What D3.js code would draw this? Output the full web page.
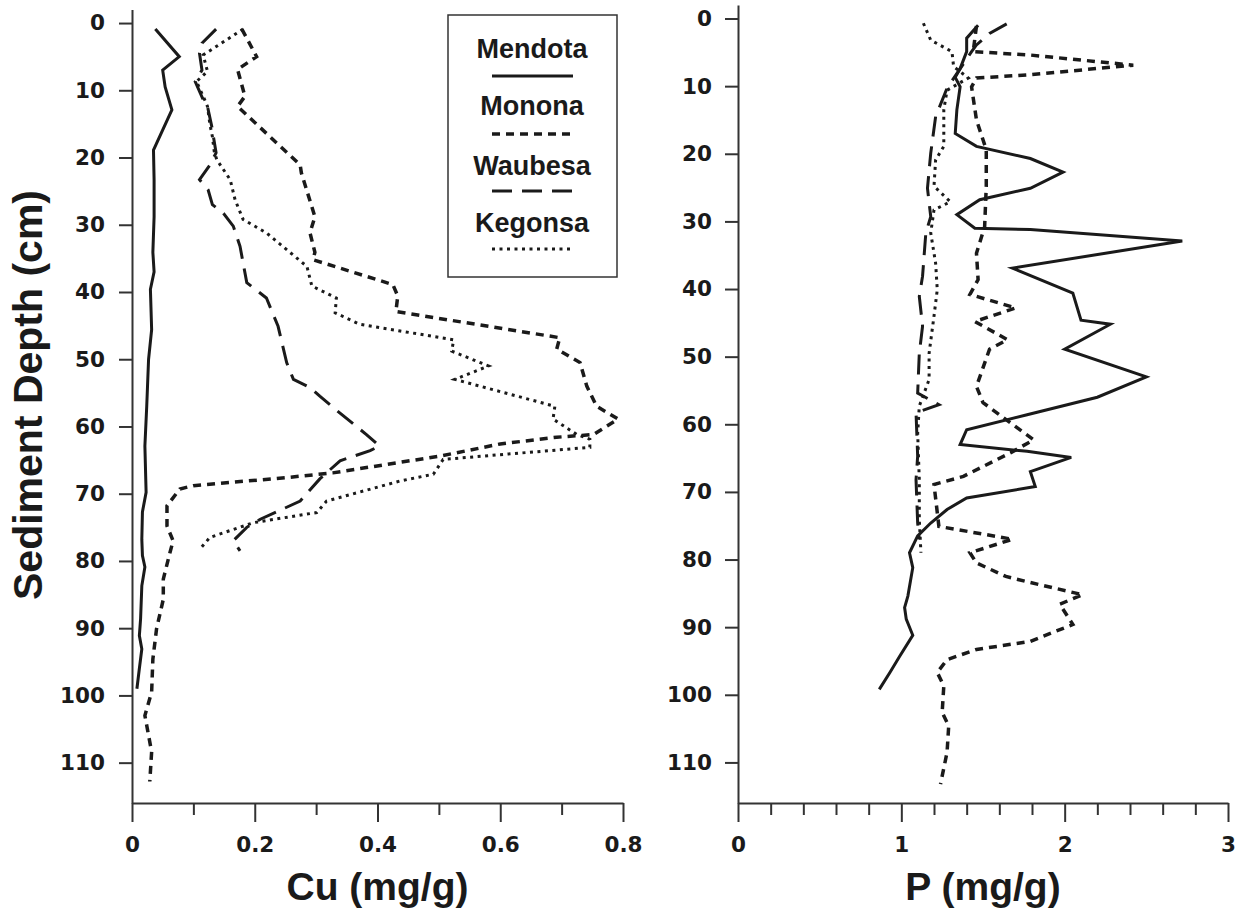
<!DOCTYPE html>
<html>
<head>
<meta charset="utf-8">
<script src="https://cdn.jsdelivr.net/npm/d3@7"></script>
<style>
  body { margin: 0; background: #fff; }
  svg { display: block; }
  text { font-family: "Liberation Sans", Arial, Helvetica, sans-serif; font-weight: bold; fill: #1a1a1a; }
  .axis text { font-family: "DejaVu Sans", Verdana, sans-serif; font-weight: bold; }
</style>
</head>
<body>
<div id="chart"></div>
<script>
// depth (cm), value (mg/g)
var cuMendota = [[0.9,0.038],[5.0,0.077],[7.0,0.050],[9.5,0.054],[12.9,0.065],[18.9,0.035],[23.3,0.036],[28.8,0.036],[34.1,0.034],[37,0.036],[39.6,0.030],[45.6,0.032],[50,0.027],[57,0.024],[62.9,0.021],[69.8,0.023],[72.7,0.017],[76.8,0.016],[79.2,0.017],[80.9,0.021],[83.7,0.016],[88.6,0.014],[91.1,0.012],[93.1,0.016],[96,0.012],[99,0.008]];
var cuMonona = [[0.9,0.179],[5.0,0.203],[6.9,0.172],[10.9,0.184],[12.4,0.172],[21.1,0.274],[22.3,0.276],[28.8,0.298],[31.2,0.290],[34.1,0.298],[35.2,0.295],[38.9,0.425],[40.6,0.433],[42.9,0.430],[46.8,0.697],[48.5,0.692],[50.5,0.730],[54,0.741],[57,0.757],[58.9,0.792],[61.2,0.752],[61.6,0.692],[62.6,0.600],[64.4,0.502],[66.9,0.327],[67.6,0.252],[68.8,0.100],[69.3,0.078],[71.8,0.057],[74.8,0.057],[77,0.067],[78.7,0.062],[82.7,0.051],[85.7,0.051],[90.1,0.040],[94.6,0.034],[99.5,0.032],[103,0.021],[108.4,0.032],[112.8,0.029]];
var cuWaubesa = [[0.9,0.137],[3.0,0.114],[4.5,0.110],[7.0,0.114],[8.7,0.103],[11.2,0.115],[12.4,0.123],[15.4,0.130],[19.3,0.137],[21.1,0.127],[23.3,0.110],[24.8,0.124],[27,0.131],[28.3,0.149],[30.2,0.165],[33.2,0.176],[38.6,0.187],[40.9,0.219],[45.1,0.238],[50.5,0.252],[53,0.263],[54.2,0.290],[55.5,0.306],[58.4,0.344],[61.2,0.382],[62.9,0.403],[63.6,0.388],[65.1,0.339],[67.8,0.306],[71.1,0.274],[73.8,0.209],[75,0.187],[77,0.165],[78.5,0.176]];
var cuKegonsa = [[0.9,0.181],[4.75,0.116],[7.2,0.123],[8.7,0.105],[10.9,0.116],[12.4,0.123],[15.1,0.127],[16.9,0.131],[19.1,0.134],[20.3,0.138],[23.3,0.160],[26.3,0.168],[29.2,0.181],[31.2,0.219],[33.7,0.252],[36.2,0.285],[39.1,0.293],[40.9,0.333],[43.1,0.331],[44.8,0.371],[45.8,0.437],[47.1,0.524],[48.8,0.521],[51.0,0.581],[53.0,0.526],[57.0,0.689],[58.9,0.686],[61.2,0.725],[61.9,0.746],[63.1,0.746],[64.9,0.507],[67.1,0.491],[68.1,0.437],[71.1,0.317],[72.8,0.301],[74.3,0.198],[76.5,0.127],[78.2,0.111]];

var pMendota = [[1.0,1.47],[2.9,1.40],[4.9,1.40],[7.4,1.36],[8.7,1.33],[10.1,1.36],[13.5,1.34],[17,1.33],[18.9,1.46],[20.7,1.79],[22.7,1.99],[25.1,1.79],[26.8,1.48],[29.0,1.34],[31.0,1.45],[31.2,1.79],[32.9,2.72],[36.9,1.68],[40.6,2.05],[44.6,2.10],[45.2,2.28],[48.9,2.00],[53.0,2.50],[56.0,2.20],[58.6,1.77],[60.8,1.40],[63.0,1.36],[64.0,1.77],[64.9,2.04],[67,1.79],[69.2,1.82],[70.9,1.40],[72.6,1.28],[74.6,1.18],[76.5,1.10],[79,1.05],[81.2,1.07],[85.4,1.04],[87.1,1.02],[88.8,1.03],[91.2,1.07],[94.3,0.99],[96.7,0.93],[99.2,0.865]];
var pMonona = [[1.1,1.46],[4.9,1.44],[5.4,1.79],[6.9,2.42],[8.3,1.79],[8.8,1.46],[10.1,1.43],[15.0,1.46],[19.4,1.52],[24.8,1.52],[30.8,1.51],[34.7,1.46],[38.6,1.47],[40.8,1.42],[42.8,1.70],[44.8,1.45],[47.5,1.65],[48.9,1.54],[54.4,1.46],[56.8,1.50],[62.3,1.81],[64.2,1.67],[67.7,1.38],[68.9,1.20],[75.1,1.23],[77.0,1.68],[79,1.42],[80.5,1.46],[82.5,1.64],[83.4,1.79],[85.2,2.11],[86.6,1.97],[89.6,2.05],[92.1,1.79],[93.3,1.46],[94.8,1.28],[96.7,1.22],[98.7,1.26],[102.6,1.25],[104.6,1.29],[108.5,1.28],[113.2,1.24]];
var pWaubesa = [[0.8,1.645],[2.2,1.54],[3.9,1.46],[4.9,1.43],[10.3,1.28],[14.5,1.21],[19.9,1.18],[25.1,1.16],[29.3,1.18],[31.7,1.15],[38.1,1.13],[41.1,1.11],[45.5,1.13],[49.5,1.11],[55.4,1.10],[57.1,1.23],[58.3,1.09],[64.7,1.10],[68.2,1.09],[74.6,1.10],[77,1.11]];
var pKegonsa = [[0.7,1.135],[3.2,1.18],[4.9,1.31],[7.1,1.32],[8.8,1.41],[10.6,1.28],[13.5,1.26],[18.9,1.26],[20.9,1.21],[24.8,1.20],[27.1,1.30],[28.3,1.20],[31.7,1.18],[36.2,1.21],[40.1,1.22],[44.0,1.20],[49.5,1.17],[53.4,1.17],[57.3,1.11],[61.3,1.10],[68.2,1.11],[74.1,1.11],[79.0,1.12]];

var lakes = ["Mendota", "Monona", "Waubesa", "Kegonsa"];
var depthTicks = d3.range(0, 111, 10);
var cuTicks = [0, 0.2, 0.4, 0.6, 0.8];
var pTicks = [0, 1, 2, 3];

var styles = {
    Mendota: { w: 3, dash: null },
    Monona: { w: 3.5, dash: "8,6" },
    Waubesa: { w: 3, dash: "20,10" },
    Kegonsa: { w: 3, dash: "3,4.5" }
};

var svg = d3.select("#chart").append("svg")
    .attr("width", 1245)
    .attr("height", 909);

function panel(cfg) {
    var x = d3.scaleLinear().domain(cfg.xDomain).range(cfg.xRange);
    var y = d3.scaleLinear().domain([-2, 116]).range(cfg.yRange);
    var g = svg.append("g");

    // minor x ticks
    g.append("g")
        .attr("transform", `translate(0, ${cfg.yRange[1]})`)
        .call(d3.axisBottom(x).tickValues(cfg.minor).tickSize(12).tickSizeOuter(0).tickFormat(""))
        .call(s => s.select(".domain").remove());

    var xAxis = g.append("g")
        .attr("class", "axis")
        .attr("transform", `translate(0, ${cfg.yRange[1]})`)
        .call(d3.axisBottom(x).tickValues(cfg.xTicks).tickSize(19).tickSizeOuter(0).tickPadding(15)
            .tickFormat(d => d === 0 ? "0" : d3.format(cfg.fmt)(d)));

    var yAxis = g.append("g")
        .attr("class", "axis")
        .attr("transform", `translate(${cfg.xRange[0]}, 0)`)
        .call(d3.axisLeft(y).tickValues(depthTicks).tickSize(13).tickSizeOuter(0).tickPadding(cfg.yPad));

    g.selectAll(".tick line, .domain").attr("stroke", "#333").attr("stroke-width", 2);
    g.selectAll(".axis text").style("font-size", "21.5px").attr("fill", "#1a1a1a");

    var line = d3.line().x(d => x(d[1])).y(d => y(d[0]));
    cfg.series.forEach(function (s, i) {
        var st = styles[lakes[i]];
        g.append("path")
            .datum(s)
            .attr("d", line)
            .attr("fill", "none")
            .attr("stroke", "#1a1a1a")
            .attr("stroke-width", st.w)
            .attr("stroke-linejoin", "miter")
            .attr("stroke-dasharray", st.dash);
    });

    g.append("text")
        .attr("x", (cfg.xRange[0] + cfg.xRange[1]) / 2)
        .attr("y", 900)
        .attr("text-anchor", "middle")
        .style("font-size", "39px")
        .text(cfg.title);
    return g;
}

panel({
    xDomain: [0, 0.8], xRange: [132, 623], yRange: [9.6, 803],
    xTicks: cuTicks, minor: d3.range(0.1, 0.8, 0.2), fmt: ".1f", yPad: 14,
    series: [cuMendota, cuMonona, cuWaubesa, cuKegonsa],
    title: "Cu (mg/g)"
});

panel({
    xDomain: [0, 3], xRange: [738, 1228], yRange: [5, 803],
    xTicks: pTicks, minor: d3.range(0.2, 3, 0.2).filter(v => Math.abs(v - Math.round(v)) > 0.01), fmt: "d", yPad: 13,
    series: [pMendota, pMonona, pWaubesa, pKegonsa],
    title: "P (mg/g)"
});

// y-axis title
svg.append("text")
    .attr("transform", "translate(42, 395) rotate(-90)")
    .attr("text-anchor", "middle")
    .style("font-size", "41px")
    .text("Sediment Depth (cm)");

// legend
var legend = svg.append("g");
legend.append("rect")
    .attr("x", 448).attr("y", 15)
    .attr("width", 169).attr("height", 262)
    .attr("fill", "#fff")
    .attr("stroke", "#333")
    .attr("stroke-width", 1.5);

var legY = [58, 115, 175, 232];
var legLineY = [76, 134, 191, 249];
lakes.forEach(function (name, i) {
    var st = styles[name];
    legend.append("text")
        .attr("x", 532).attr("y", legY[i])
        .attr("text-anchor", "middle")
        .style("font-size", "27px")
        .text(name);
    legend.append("line")
        .attr("x1", 492).attr("x2", 573)
        .attr("y1", legLineY[i]).attr("y2", legLineY[i])
        .attr("stroke", "#1a1a1a")
        .attr("stroke-width", st.w)
        .attr("stroke-dasharray", st.dash);
});
</script>
</body>
</html>
